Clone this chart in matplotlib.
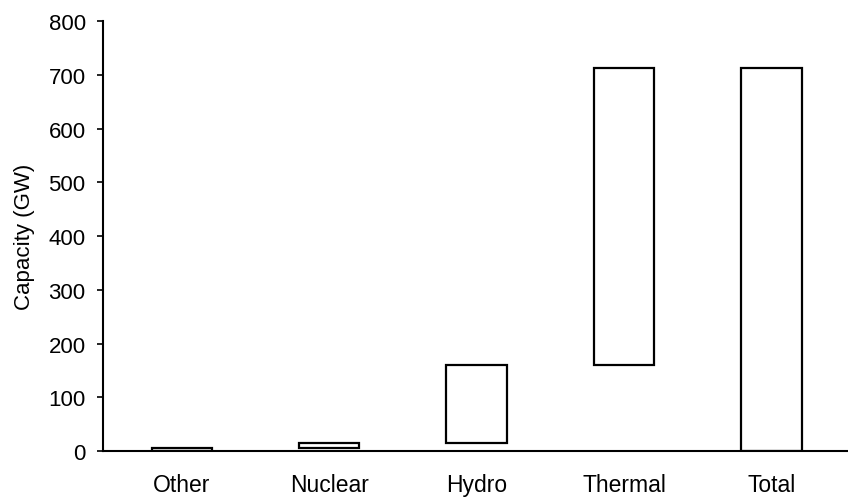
import matplotlib
matplotlib.use("Agg")
import matplotlib.pyplot as plt

plt.rcParams['font.family'] = ['Liberation Sans', 'DejaVu Sans']

categories = ["Other", "Nuclear", "Hydro", "Thermal", "Total"]
bar_low = [0, 5, 15, 160, 0]
bar_high = [5, 15, 160, 712, 712]

fig = plt.figure(figsize=(8.48, 5.02), dpi=100)
ax = fig.add_axes([0.1215, 0.0996, 0.8785, 0.8564])

heights = [h - l for l, h in zip(bar_low, bar_high)]
ax.bar(range(len(categories)), heights, bottom=bar_low, width=0.41,
       facecolor="white", edgecolor="black", linewidth=1.6)

ax.set_xlim(-0.535, 4.52)
ax.set_ylim(0, 800)
ax.set_yticks(range(0, 801, 100))
ax.set_xticks(range(len(categories)))
ax.set_xticklabels(categories)
ax.tick_params(axis="x", length=0, pad=16, labelsize=16.5)
ax.tick_params(axis="y", direction="out", length=4.5, width=1.2, labelsize=16, pad=8)
ax.set_ylabel("Capacity (GW)", fontsize=16, labelpad=10)

for s in ["top", "right"]:
    ax.spines[s].set_visible(False)
ax.spines["left"].set_linewidth(1.5)
ax.spines["bottom"].set_linewidth(1.5)

fig.savefig("out.png", dpi=100)
